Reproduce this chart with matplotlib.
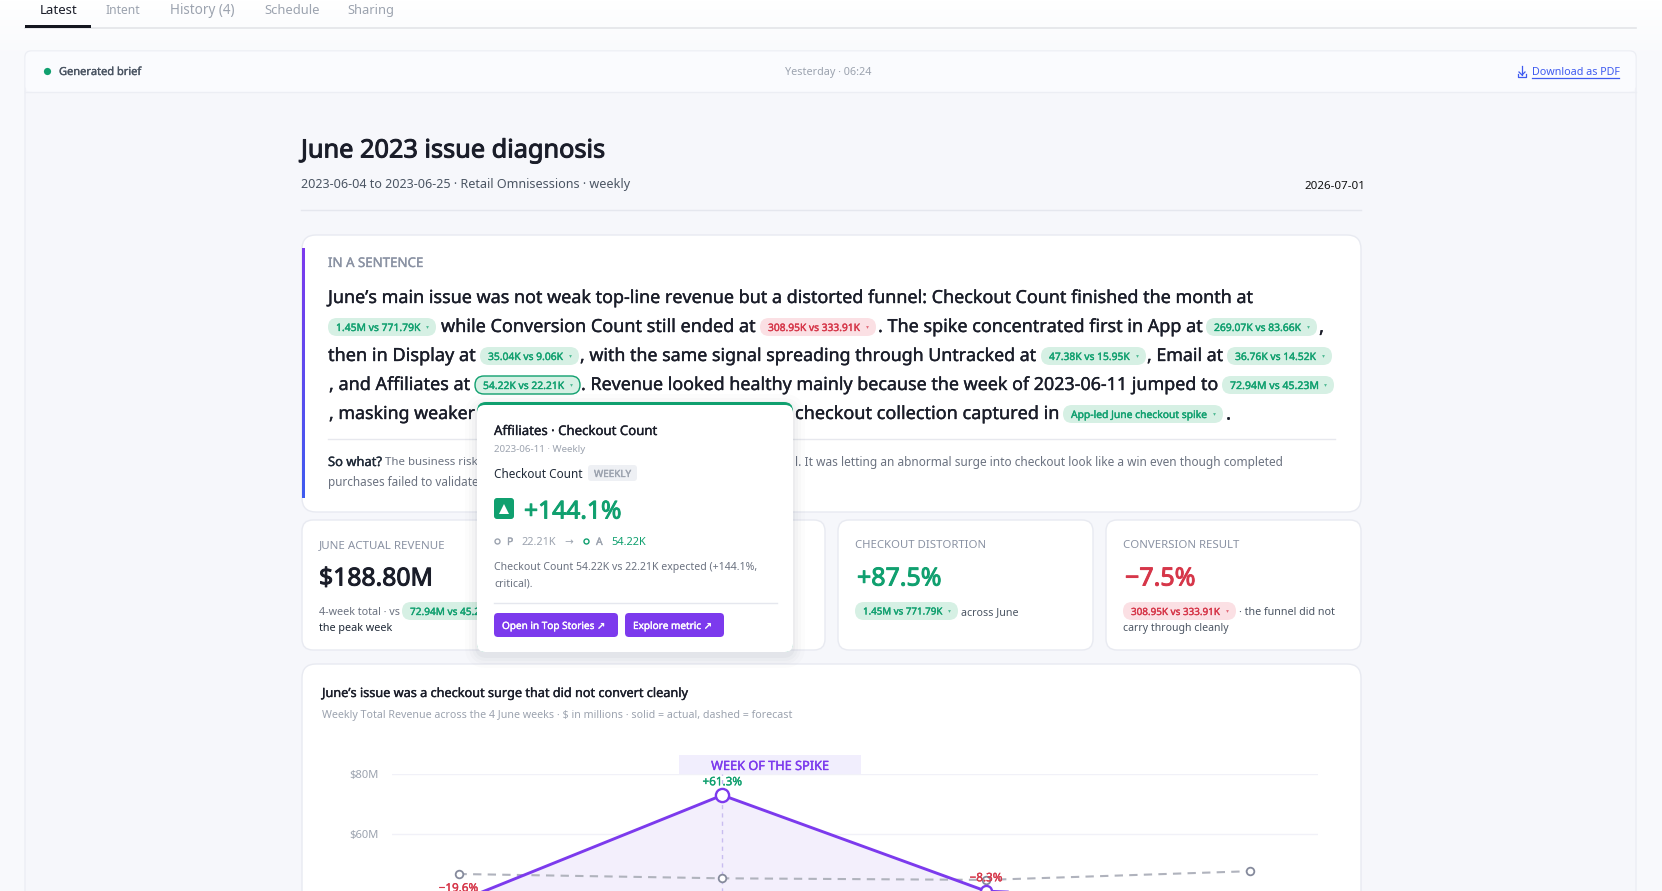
import matplotlib

matplotlib.use("agg")
import matplotlib.patheffects as pe
import matplotlib.pyplot as plt
import numpy as np
from matplotlib.colors import LinearSegmentedColormap
from matplotlib.font_manager import FontProperties
from matplotlib.patches import FancyBboxPatch, Rectangle
from matplotlib.textpath import TextPath

FAMILY = ["Noto Sans", "DejaVu Sans"]
plt.rcParams["font.family"] = FAMILY

W, H = 1662, 891

# chart values, $ millions per June week
weeks = ["2023-06-04", "2023-06-11", "2023-06-18", "2023-06-25"]
actual = [37.5, 72.94, 40.95, 37.41]
forecast = [46.67, 45.23, 44.7, 47.6]
deviation_labels = ["\u221219.6%", "+61.3%", "\u22128.3%"]
deviation_colors = ["#d63649", "#10a06f", "#d63649"]
y_ticks = [60, 80]
y_tick_labels = ["$60M", "$80M"]
actual_marker_sizes = [9, 9.5, 8, 8]

tabs = ["Latest", "Intent", "History (4)", "Schedule", "Sharing"]
tab_spans = [(40, 76), (106, 140), (170, 233), (264, 318), (347, 392)]

GREEN = "#10a06f"
RED = "#d63649"
PURPLE = "#7c3aed"
INK = "#1a1d29"
GRAY = "#6b7280"
LIGHT = "#9ca3af"
BORDER = "#e8eaf1"

# Noto Sans only comes in one weight here, heavier text gets a stroke
STROKE = {"normal": 0, "medium": 0.25, "bold": 0.7}

fig = plt.figure(figsize=(W / 100, H / 100), dpi=100, facecolor="#f8f9fc")
ui = fig.add_axes([0, 0, 1, 1])
ui.set_xlim(0, W)
ui.set_ylim(H, 0)
ui.axis("off")


def heavy(color, weight):
    if STROKE[weight] == 0:
        return []
    return [pe.withStroke(linewidth=STROKE[weight], foreground=color)]


def label(x, y, s, size=10, w=None, color=INK, weight="normal", ha="left", z=3):
    """Text in pixel coords, w forces the width in pixels"""
    if w is not None:
        fp = FontProperties(family=FAMILY[0])
        size = 7.2 * w / TextPath((0, 0), s, size=10, prop=fp).get_extents().width
    return ui.text(x, y - 1, s, fontsize=size, color=color, ha=ha, va="center_baseline", zorder=z,
                   path_effects=heavy(color, weight))


def box(x0, y0, x1, y1, r=0, fc="white", ec="none", lw=1, z=1, alpha=None):
    patch = FancyBboxPatch((x0, y0), x1 - x0, y1 - y0, boxstyle="round,pad=0,rounding_size={}".format(r),
                           fc=fc, ec=ec, lw=lw, zorder=z, alpha=alpha)
    ui.add_patch(patch)
    return patch


def pill(x0, x1, cy, s, bad=False, outline=False, z=3):
    fg, bg = (RED, "#fbe0e4") if bad else (GREEN, "#d6f0e4")
    box(x0, cy - 9, x1, cy + 9, r=9, fc=bg, ec=GREEN if outline else "none", lw=1, z=z)
    label(x0 + 8, cy + 1, s, w=x1 - x0 - 24.5, color=fg, weight="medium", z=z)
    ui.plot([x1 - 9.5], [cy - 0.3], marker="v", ms=2, mew=0, color=fg, alpha=0.7, zorder=z, ls="none")


# page background
ui.imshow(np.linspace(1, 0, 60).reshape(-1, 1), extent=(0, W, 60, 0), aspect="auto",
          cmap=LinearSegmentedColormap.from_list("top", ["#f8f9fc", "#ffffff"]), zorder=0)
ui.set_xlim(0, W)
ui.set_ylim(H, 0)

# tabs
ui.plot([25, 1636], [27.5, 27.5], color="#e3e4e8", lw=1.2, zorder=1)
ui.add_patch(Rectangle((25, 25), 66, 3, fc="#14161f", ec="none", zorder=2))
for name, (x0, x1) in zip(tabs, tab_spans):
    label(x0, 10, name, w=x1 - x0, color=INK if name == "Latest" else LIGHT)

# outer card and its header
box(25, 51, 1636, 960, r=6, fc="#f6f7fb", ec="#eceef4")
box(25.5, 51.5, 1635.5, 92, r=6, fc="#fafbfe", ec="none")
ui.plot([25, 1636], [92, 92], color="#eceef4", lw=1, zorder=2)
ui.plot([47], [71], marker="o", ms=5.2, mew=0, color=GREEN, zorder=3)
label(59, 72, "Generated brief", w=82, color="#4b5563", weight="medium")
label(785, 72, "Yesterday \u00b7 06:24", w=86, color=LIGHT)
label(1532, 72, "Download as PDF", w=87, color="#3f5bf0")
ui.plot([1532, 1619], [77.5, 77.5], color="#3f5bf0", lw=0.9, zorder=3)
ui.plot([1522, 1522], [66, 75], color="#3f5bf0", lw=0.9, zorder=3)
ui.plot([1519, 1522, 1525], [72, 75, 72], color="#3f5bf0", lw=0.9, zorder=3)
ui.plot([1518, 1518, 1526, 1526], [74, 77, 77, 74], color="#3f5bf0", lw=0.9, zorder=3)

# report heading
label(301, 149, "June 2023 issue diagnosis", w=305, color=INK, weight="bold")
label(301, 184, "2023-06-04 to 2023-06-25 \u00b7 Retail Omnisessions \u00b7 weekly", w=327, color="#4b5563")
label(1304, 186, "2026-07-01", w=57, color="#111111")
ui.plot([301, 1361], [210, 210], color="#e5e7ee", lw=1, zorder=1)

# summary card
box(302, 235, 1361, 512, r=14, fc="white", ec=BORDER)
ui.imshow(np.linspace(0, 1, 60).reshape(-1, 1), extent=(302, 305, 498, 248), aspect="auto",
          cmap=LinearSegmentedColormap.from_list("bar", ["#7c3aed", "#3f5bf0"]), zorder=2)
ui.set_xlim(0, W)
ui.set_ylim(H, 0)
label(328, 263, "IN A SENTENCE", w=94, color="#8a92a3", weight="medium")

sentence = [
    (297, [(328, 1254, "June\u2019s main issue was not weak top-line revenue but a distorted funnel: Checkout Count finished the month at")]),
    (326, [(441, 755, "while Conversion Count still ended at"), (878, 1201, ". The spike concentrated first in App at"), (1319, 1322, ",")]),
    (355, [(328, 475, "then in Display at"), (580, 1035, ", with the same signal spreading through Untracked at"), (1147, 1222, ", Email at")]),
    (384, [(329, 469, ", and Affiliates at"), (581, 1216, ". Revenue looked healthy mainly because the week of 2023-06-11 jumped to")]),
    (413, [(329, 474, ", masking weaker"), (795, 1057, "checkout collection captured in"), (1226, 1228, ".")]),
]
for y, parts in sentence:
    for x0, x1, s in parts:
        if len(s) == 1:
            label(x0, y, s, size=13.8, color=INK, weight="medium")
        else:
            label(x0, y, s, w=x1 - x0, color=INK, weight="medium")

pill(328, 436, 327, "1.45M vs 771.79K")
pill(760, 876, 327, "308.95K vs 333.91K", bad=True)
pill(1206, 1317, 327, "269.07K vs 83.66K")
pill(480, 579, 356, "35.04K vs 9.06K")
pill(1041, 1146, 356, "47.38K vs 15.95K")
pill(1227, 1332, 356, "36.76K vs 14.52K")
pill(475, 580, 385, "54.22K vs 22.21K", outline=True)
pill(1222, 1334, 385, "72.94M vs 45.23M")
pill(1063, 1223, 414, "App-led June checkout spike")

ui.plot([328, 1335], [439, 439], color="#e7e8ee", lw=1, zorder=2)
label(328, 462, "So what?", w=53, color="#1f2937", weight="medium")
label(385, 462, "The business risk", w=92, color=GRAY)
label(795, 462, "l. It was letting an abnormal surge into checkout look like a win even though completed", w=486, color=GRAY)
label(328, 482, "purchases failed to validate", w=149, color=GRAY)

# metric cards
for x0 in (302, 570, 838, 1106):
    box(x0, 520, x0 + 255, 650, r=11, fc="white", ec=BORDER)

label(319, 545, "JUNE ACTUAL REVENUE", w=127, color="#8a92a3")
label(319, 577, "$188.80M", w=110, color=INK, weight="bold")
label(319, 612, "4-week total \u00b7 vs", w=80, color=GRAY)
pill(402, 510, 611, "72.94M vs 45.23M")
label(319, 628, "the peak week", w=73, color="#1f2937")

label(855, 545, "CHECKOUT DISTORTION", w=129, color="#8a92a3")
label(857, 577, "+87.5%", w=82, color=GREEN, weight="bold")
pill(855, 958, 611, "1.45M vs 771.79K")
label(961, 612, "across June", w=56, color="#4b5563")

label(1123, 545, "CONVERSION RESULT", w=115, color="#8a92a3")
label(1125, 577, "\u22127.5%", w=68, color=RED, weight="bold")
pill(1123, 1236, 611, "308.95K vs 333.91K", bad=True)
label(1239, 612, "\u00b7 the funnel did not", w=95, color="#4b5563")
label(1123, 628, "carry through cleanly", w=104, color="#4b5563")

# chart card
box(302, 664, 1361, 960, r=14, fc="white", ec=BORDER)
label(322, 693, "June\u2019s issue was a checkout surge that did not convert cleanly", w=367, color=INK, weight="medium")
label(322, 715, "Weekly Total Revenue across the 4 June weeks \u00b7 $ in millions \u00b7 solid = actual, dashed = forecast", w=468, color=LIGHT)

# popover over the cards
for grow, a in ((12, 0.012), (8, 0.016), (5, 0.02), (2, 0.03)):
    box(477 - grow, 402 - grow + 4, 793 + grow, 652 + grow + 4, r=10 + grow, fc="#1f2937", z=5, alpha=a)
box(477, 402, 793, 652, r=9, fc=GREEN, z=6)
box(477, 405, 793, 652, r=8, fc="white", z=6)
Z = 7
label(494, 431, "Affiliates \u00b7 Checkout Count", w=163, color=INK, weight="medium", z=Z)
label(494, 450, "2023-06-11 \u00b7 Weekly", w=91, color=LIGHT, z=Z)
label(494, 474, "Checkout Count", w=87, color="#1f2937", z=Z)
box(588, 465, 637, 481, r=3, fc="#eef0f4", z=Z)
label(594, 474, "WEEKLY", w=37, color=LIGHT, weight="medium", z=Z)
box(494, 498, 514, 519, r=3, fc=GREEN, z=Z)
ui.plot([504], [508.5], marker="^", ms=6.5, mew=0, color="white", zorder=Z + 1)
label(524, 510, "+144.1%", w=95, color=GREEN, weight="bold", z=Z)
ui.plot([497], [541], marker="o", ms=3.6, mfc="white", mec=LIGHT, mew=1, zorder=Z)
label(507, 542, "P", size=7.5, color=LIGHT, weight="medium", z=Z)
label(521, 542, "22.21K", w=34, color=LIGHT, z=Z)
label(564, 542, "\u2192", size=7.5, color=LIGHT, z=Z)
ui.plot([586], [541], marker="o", ms=3.6, mfc="white", mec=GREEN, mew=1, zorder=Z)
label(596, 542, "A", size=7.5, color=LIGHT, weight="medium", z=Z)
label(611, 542, "54.22K", w=34, color=GREEN, z=Z)
label(494, 567, "Checkout Count 54.22K vs 22.21K expected (+144.1%,", w=261, color=GRAY, z=Z)
label(494, 583, "critical).", w=37, color=GRAY, z=Z)
ui.plot([494, 777], [603, 603], color="#e5e7ee", lw=1, zorder=Z)
box(494, 613, 618, 637, r=4, fc=PURPLE, z=Z)
box(625, 613, 724, 637, r=4, fc=PURPLE, z=Z)
label(502, 626, "Open in Top Stories \u2197", size=7.2, color="white", weight="medium", z=Z + 1)
label(633, 626, "Explore metric \u2197", size=7.2, color="white", weight="medium", z=Z + 1)

# revenue chart, top of the axes is the $80M line
ax = fig.add_axes([391.5 / W, 0, (1318 - 391.5) / W, (H - 774) / H])
ax.patch.set_alpha(0)
px_per_week = (1250 - 458.5) / 3
ax.set_xlim((391.5 - 458.5) / px_per_week, (1318 - 458.5) / px_per_week)
ax.set_ylim(41, 80)
x = np.arange(len(weeks))

ax.fill_between(x, actual, 30, color="#f3effc", zorder=1, lw=0)
ax.set_yticks(y_ticks, y_tick_labels, fontsize=8, color=LIGHT)
ax.set_xticks([])
ax.tick_params(axis="y", length=0, pad=9)
ax.grid(axis="y", color="#f1f1f8", lw=1)
ax.set_axisbelow(True)
for spine in ax.spines.values():
    spine.set_visible(False)

ax.plot([x[1], x[1]], [30, 80], color="#c9bdf0", lw=1, ls=(0, (3, 3)), zorder=2, clip_on=False)
ax.plot(x, forecast, color="#b0b3bd", lw=1.5, ls=(0, (4, 3)), zorder=3, marker="o", ms=5.5,
        mfc="white", mec="#858a9c", mew=1.3)
ax.plot(x, actual, color=PURPLE, lw=2.1, zorder=4)
for xi, yi, ms in zip(x, actual, actual_marker_sizes):
    ax.plot([xi], [yi], marker="o", ms=ms, mfc="white", mec=PURPLE, mew=1.7, zorder=5, ls="none", clip_on=False)
for xi, yi, s, c in zip(x, actual, deviation_labels, deviation_colors):
    ax.annotate(s, (xi, yi), xytext=(0, 10), textcoords="offset points", ha="center", va="center_baseline",
                fontsize=8.4, color=c, zorder=6, annotation_clip=False, path_effects=heavy(c, "medium"))

# spike banner
band = Rectangle((678.6, 755), 182.4, 19, fc="#f1eefd", ec="none", zorder=2)
ui.add_patch(band)
label(770, 766, "WEEK OF THE SPIKE", w=117, color=PURPLE, weight="medium", ha="center")

fig.savefig("out.png", dpi=100)
